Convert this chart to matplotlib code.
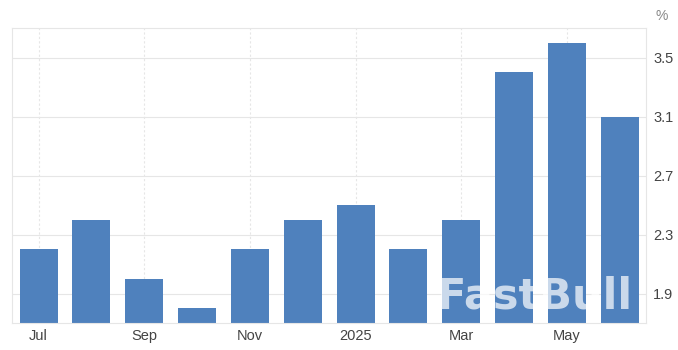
import matplotlib.pyplot as plt

# monthly values, Jul 2024 .. Jun 2025
months = ["Jul", "Aug", "Sep", "Oct", "Nov", "Dec",
          "Jan", "Feb", "Mar", "Apr", "May", "Jun"]
values = [2.2, 2.4, 2.0, 1.8, 2.2, 2.4, 2.5, 2.2, 2.4, 3.4, 3.6, 3.1]
tick_labels = ["Jul", "Sep", "Nov", "2025", "Mar", "May"]
y_ticks = [1.9, 2.3, 2.7, 3.1, 3.5]

BAR = "#4f81bd"
GRID = "#e6e6e6"
TXT = "#444444"

plt.rcParams["font.family"] = ["Liberation Sans", "DejaVu Sans"]

fig = plt.figure(figsize=(6.78, 3.5), dpi=100)
ax = fig.add_axes([0.018, 0.077, 0.935, 0.843])

x = list(range(len(months)))
ax.bar(x, values, width=0.72, color=BAR, zorder=2)

ax.set_xlim(-0.5, len(months) - 0.5)
ax.set_ylim(1.7, 3.7)

ax.set_xticks(x[::2])
ax.set_xticklabels(tick_labels)
ax.set_yticks(y_ticks)
ax.set_yticklabels([f"{v:.1f}" for v in y_ticks])
ax.yaxis.tick_right()
ax.tick_params(axis="both", length=0, labelsize=10.5, colors=TXT)
ax.tick_params(axis="x", pad=4)
ax.tick_params(axis="y", pad=5)

ax.grid(axis="y", color=GRID, linewidth=0.8, zorder=0)
ax.grid(axis="x", color=GRID, linewidth=0.8, linestyle=(0, (2, 2)), zorder=0)
for side in ax.spines.values():
    side.set_color(GRID)
    side.set_linewidth(0.8)

fig.text(0.985, 0.975, "%", ha="right", va="top", fontsize=10, color="#888888")

# watermark
ax.text(0.978, 0.02, "FastBull", transform=ax.transAxes, ha="right", va="bottom",
        fontsize=31, fontweight="bold", color="white", alpha=0.7, zorder=3,
        family="DejaVu Sans")

fig.savefig("out.png", dpi=100)
